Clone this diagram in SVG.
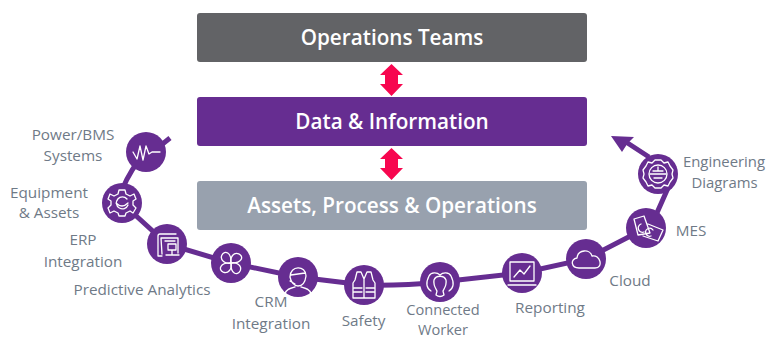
<svg xmlns="http://www.w3.org/2000/svg" width="767" height="339" viewBox="0 0 767 339">
<style>
text{font-family:"Open Sans","Liberation Sans",sans-serif}
.bar{font-size:20.7px;font-weight:600;fill:#fff;text-anchor:middle}
.lb{font-size:15.3px;fill:#6f7a87;text-anchor:middle}
.nar{font-size:14.9px}
.cw{font-size:14.6px}
.dot{fill:#662d91}
.ic{fill:none;stroke:#fff;stroke-width:1.3;stroke-linejoin:round;stroke-linecap:round}
.dbl{fill:#f7064f}
</style>
<defs><path id="petal" d="M0 0 C-5 -3 -6 -10 -1 -12 C5 -14 8 -7 0 0"/></defs>
<rect width="767" height="339" fill="#fff"/>
<g id="connectors">
<path d="M170 138 L160 146 M146 152 Q131 168 122 190 M122 203 L167 244 L231 263 L298 277 L364 285 Q400 286 440 282 L522 273 L586 259 L646 228 M656 215 L668 188 M649 157 L626 142" fill="none" stroke="#662d91" stroke-width="5"/>
<path d="M611 136 L634 137 L627.500 143.500 L622 152 Z" fill="#662d91"/>
</g>
<g id="operations-teams"><rect x="197" y="13" width="390" height="49" rx="3" fill="#626366"/><text class="bar" x="392" y="45">Operations Teams</text></g>
<g id="data-information"><rect x="197" y="97" width="390" height="49" rx="3" fill="#662d91"/><text class="bar" x="392" y="129">Data &amp; Information</text></g>
<g id="assets-process"><rect x="197" y="181" width="390" height="49" rx="3" fill="#98a1ae"/><text class="bar" x="392" y="213">Assets, Process &amp; Operations</text></g>
<g id="arrow-top"><path class="dbl" d="M391.500 64 L403 75 L398 75 L398 84 L403 84 L391.500 96 L380 84 L385 84 L385 75 L380 75 Z"/></g>
<g id="arrow-bottom"><path class="dbl" d="M391.500 148 L403 159 L398 159 L398 168 L403 168 L391.500 180 L380 168 L385 168 L385 159 L380 159 Z"/></g>
<g id="power-bms"><circle class="dot" cx="146" cy="152" r="20"/><path class="ic" d="M133 152 L137 159 L140 146 L143 160 L146 146 L149 154 L152 152 L160 152"/><text class="lb" x="73" y="140">Power/BMS</text><text class="lb" x="73" y="161">Systems</text></g>
<g id="equipment"><circle class="dot" cx="122" cy="203" r="20"/><path class="ic" d="M127 199 A6 6 0 1 0 128 205 M116 203 Q122 209 128 203"/><path class="ic" d="M119 190 L125 190 L126 194 L130 196 L134 194 L136 199 L133 201 L133 205 L136 208 L133 213 L130 211 L126 213 L125 216 L119 216 L118 213 L114 211 L110 213 L108 208 L111 205 L111 201 L108 199 L110 194 L114 196 L118 194 Z"/><text class="lb" x="49" y="198">Equipment</text><text class="lb" x="49" y="218">&amp; Assets</text></g>
<g id="erp"><circle class="dot" cx="167" cy="244" r="20"/><path class="ic" d="M162 256 L158 256 L158 236 Q158 234 160 234 L176 234 M162 254 L161 238 L178 238 L178 253 M165 241 L175 241 M168 249 L168 244 L176 244 L176 250 L168 250 M172 250 L172 254 M166 255 L179 255"/><text class="lb" x="83" y="245">ERP</text><text class="lb" x="83" y="267">Integration</text></g>
<g id="predictive"><circle class="dot" cx="231" cy="263" r="20"/><g class="ic" transform="translate(231 263)"><use href="#petal" transform="rotate(45)"/><use href="#petal" transform="rotate(135)"/><use href="#petal" transform="rotate(225)"/><use href="#petal" transform="rotate(315)"/></g><text class="lb" x="142" y="295">Predictive Analytics</text></g>
<g id="crm"><circle class="dot" cx="298" cy="277" r="20"/><path class="ic" d="M290 277 C290 265 306 265 306 276 C305 284 301 286 298 286 C294 286 291 282 290 277 M291 275 L305 273 M290 281 L295 284 M285 294 C286 289 291 288 295 287 M311 294 C310 289 305 288 301 287"/><text class="lb" x="271" y="307">CRM</text><text class="lb" x="271" y="329">Integration</text></g>
<g id="safety"><circle class="dot" cx="364" cy="285" r="20"/><path class="ic" d="M357 272 L361 272 L364 279 L367 272 L371 272 L373 280 L375 283 L375 298 L353 298 L353 283 L355 280 Z M364 279 L364 298 M354 288 L362 288 M354 292 L362 292 M366 288 L374 288 M366 292 L374 292"/><text class="lb" x="363.500" y="326">Safety</text></g>
<g id="connected-worker"><circle class="dot" cx="440" cy="282" r="20"/><path class="ic" d="M431 291 C425 287 427 280 429 276 C431 272 437 272 440 275 C443 272 449 272 451 276 C453 280 455 287 449 291 M434 280 C436 275 444 275 446 280 C447 285 444 289 443 291 L444 295 M434 280 C433 285 436 289 437 291 L436 295 M436 295 Q440 298 444 295"/><text class="lb cw" x="443" y="315">Connected</text><text class="lb cw" x="443" y="334.700">Worker</text></g>
<g id="reporting"><circle class="dot" cx="522" cy="273" r="20"/><path class="ic" d="M510 262 L534 262 L534 281 L510 281 Z M508 285 L536 285 M514 277 L520 270 L524 274 L530 266"/><text class="lb" x="550" y="313">Reporting</text></g>
<g id="cloud"><circle class="dot" cx="586" cy="259" r="20"/><path class="ic" d="M579 268 C571 268 570 259 577 258 C578 249 590 249 592 256 C600 254 604 268 595 268 Z"/><text class="lb" x="630" y="286">Cloud</text></g>
<g id="mes"><circle class="dot" cx="646" cy="228" r="20"/><path class="ic" d="M634 219 L644 216 L650 233 L638 235 Z M648 224 L663 230 L658 241 L643 236 M641 224 A4 4 0 1 0 644 232 M653 230 A4 4 0 1 0 651 236"/><text class="lb" x="691" y="236">MES</text></g>
<g id="engineering"><circle class="dot" cx="658" cy="174" r="20"/><path class="ic" d="M655 160 L661 160 L664 163 L668 162 L670 166 L673 170 L672 174 L673 178 L670 182 L668 186 L664 185 L661 188 L655 188 L652 185 L648 186 L646 182 L643 178 L644 174 L643 170 L646 166 L648 162 L652 163 Z"/><circle class="ic" cx="658" cy="174" r="9"/><path class="ic" d="M650 174 L666 174 M653 171 L663 171 M654 178 L662 178 M658 167 L658 170"/><text class="lb nar" x="724" y="167">Engineering</text><text class="lb nar" x="724.500" y="188">Diagrams</text></g>
</svg>
